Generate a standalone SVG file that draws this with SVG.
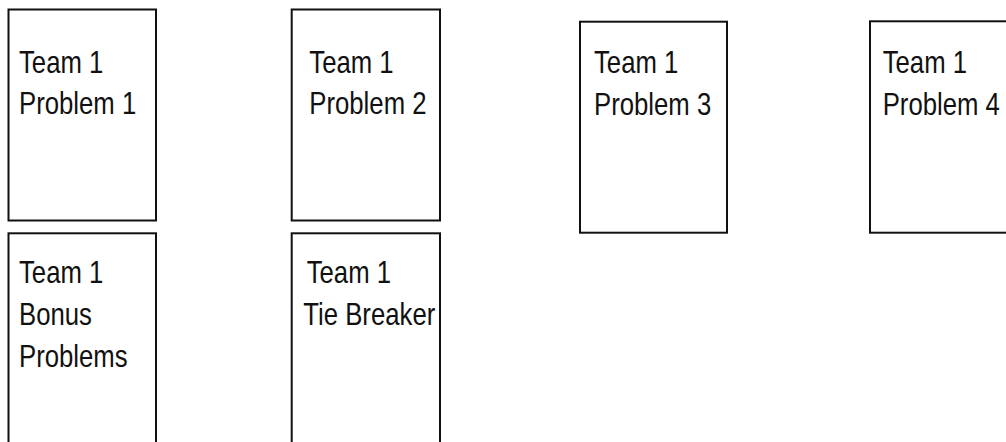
<svg xmlns="http://www.w3.org/2000/svg" width="1006" height="442" viewBox="0 0 1006 442">
<style>
.box{fill:#fff;stroke:#111;stroke-width:2}
.t{font-family:"Liberation Sans",Arial,sans-serif;font-size:31px;fill:#111}
</style>
<rect width="1006" height="442" fill="#fff"/>
<g id="connectors"/>
<g id="p1"><rect class="box" x="8.5" y="9.5" width="147.5" height="211"/><text class="t" transform="translate(19 72.7) scale(0.83 1)">Team 1</text><text class="t" transform="translate(19 114.3) scale(0.83 1)">Problem 1</text></g>
<g id="p2"><rect class="box" x="291.7" y="9.5" width="148.3" height="211"/><text class="t" transform="translate(309.3 72.7) scale(0.83 1)">Team 1</text><text class="t" transform="translate(309.3 114.3) scale(0.83 1)">Problem 2</text></g>
<g id="p3"><rect class="box" x="580" y="21.7" width="147" height="211"/><text class="t" transform="translate(594 73.3) scale(0.83 1)">Team 1</text><text class="t" transform="translate(594 115) scale(0.83 1)">Problem 3</text></g>
<g id="p4"><rect class="box" x="870" y="21.3" width="150" height="211.4"/><text class="t" transform="translate(882.7 73.3) scale(0.83 1)">Team 1</text><text class="t" transform="translate(882.7 115) scale(0.83 1)">Problem 4</text></g>
<g id="bonus"><rect class="box" x="8.5" y="233.3" width="147.5" height="220"/><text class="t" transform="translate(19 283.3) scale(0.83 1)">Team 1</text><text class="t" transform="translate(19 325) scale(0.83 1)">Bonus</text><text class="t" transform="translate(19 366.7) scale(0.83 1)">Problems</text></g>
<g id="tie"><rect class="box" x="291.7" y="233.3" width="148.3" height="220"/><text class="t" transform="translate(306.7 283.3) scale(0.83 1)">Team 1</text><text class="t" transform="translate(303.3 325) scale(0.83 1)">Tie Breaker</text></g>
</svg>
